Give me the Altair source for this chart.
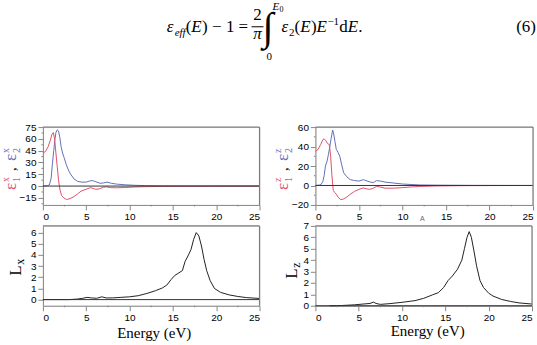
import altair as alt
import pandas as pd

# ---------------- data ----------------
# x polarisation: real (eps1) and imaginary (eps2) parts of the dielectric function
e1x_E = [0, 0.3, 0.6, 0.85, 1.05, 1.2, 1.35, 1.5, 1.65, 1.8, 1.9, 2.0, 2.15, 2.4, 2.7, 3.0, 3.5, 4.0, 4.4, 5.0,
         5.5, 5.8, 6.1, 6.5, 7.0, 7.3, 7.8, 8.5, 9.5, 10.5, 12, 14, 17, 20, 25]
e1x = [42, 44, 50, 58, 66, 68, 60, 42, 25, 8, 0, -6, -12, -15, -17, -16.5, -14, -10, -6.5, -4,
       -2, -3, -4.2, -3.5, -1.5, -1, -2, -2.2, -1.8, -1.2, -0.7, -0.4, -0.2, -0.1, 0]
e2x_E = [0, 0.5, 0.75, 0.95, 1.1, 1.25, 1.38, 1.5, 1.65, 1.8, 1.95, 2.1, 2.27, 2.45, 2.7, 3.0, 3.2, 3.6, 4.0, 4.5,
         5.0, 5.4, 5.7, 6.1, 6.6, 7.0, 7.4, 7.9, 8.5, 9.5, 10.5, 12, 14, 17, 20, 25]
e2x = [0, 0.5, 1.5, 10, 29, 45, 59, 68, 71.5, 70, 62, 50, 42, 36, 27, 19, 15, 9, 6, 5,
       5, 6.5, 7, 5.5, 3.5, 4, 5, 3.5, 2.5, 1.6, 1.0, 0.5, 0.3, 0.15, 0.1, 0.05]

# z polarisation
e1z_E = [0, 0.3, 0.6, 0.85, 1.0, 1.2, 1.4, 1.6, 1.75, 1.9, 2.05, 2.2, 2.4, 2.6, 2.9, 3.2, 3.6, 4.0, 4.5, 5.0,
         5.5, 5.9, 6.2, 6.6, 7.0, 7.4, 8.0, 9, 10, 11, 12, 14, 17, 20, 25]
e1z = [35, 37, 42, 47, 48, 46, 43, 42, 30, 10, -5, -7, -9, -12, -14.5, -14, -12, -9, -6, -4,
       -2.5, -3.5, -4, -3, -1, -1.5, -2.8, -2.8, -2.2, -1.5, -1, -0.5, -0.2, -0.1, 0]
e2z_E = [0, 0.5, 0.65, 0.85, 1.0, 1.15, 1.34, 1.5, 1.64, 1.8, 1.98, 2.1, 2.25, 2.4, 2.6, 2.8, 3.0, 3.25, 3.6, 4.0,
         4.5, 5.0, 5.5, 5.8, 6.3, 6.7, 7.0, 7.5, 8.0, 9, 10, 11, 12, 14, 18, 25]
e2z = [0, 0.5, 1, 4, 10, 20, 25, 32, 39, 48, 57, 53, 45, 37, 34, 30, 22, 13, 9, 6,
       5, 4.5, 6, 5, 3.5, 3, 5, 4.5, 3.5, 2.5, 1.5, 1, 0.5, 0.3, 0.1, 0]

# energy-loss functions
Lx_E = [0, 3, 4, 4.6, 5.1, 5.6, 6.2, 6.8, 7.3, 8, 9, 10, 11, 12, 13, 13.8, 14.3, 14.8, 15.2, 15.7,
        16.1, 16.4, 16.8, 17.1, 17.4, 17.7, 18.0, 18.3, 18.6, 18.9, 19.3, 19.8, 20.5, 21.5, 22.5, 23.5, 25]
Lx = [0, 0, 0.05, 0.12, 0.2, 0.15, 0.12, 0.25, 0.15, 0.15, 0.2, 0.25, 0.35, 0.55, 0.8, 1.05, 1.3, 1.8, 2.15, 2.4,
      2.6, 3.4, 4.0, 4.5, 5.4, 6.0, 5.7, 4.8, 3.6, 2.6, 1.7, 1.0, 0.65, 0.42, 0.28, 0.18, 0.1]
Lz_E = [1.65, 3, 4.5, 5.5, 6.3, 6.7, 7.0, 7.5, 8.5, 10, 11.5, 12.5, 13.5, 14.2, 14.8, 15.3, 15.8, 16.4, 16.9, 17.2,
        17.5, 17.75, 18.0, 18.3, 18.6, 19.0, 19.4, 20, 20.5, 21.5, 22.5, 23.5, 25]
Lz = [0, 0.02, 0.08, 0.15, 0.2, 0.32, 0.2, 0.12, 0.18, 0.3, 0.45, 0.65, 0.95, 1.15, 1.6, 2.2, 2.6, 3.2, 4.0, 5.0,
      6.0, 6.5, 6.0, 4.8, 3.5, 2.2, 1.6, 1.1, 0.85, 0.55, 0.38, 0.25, 0.15]

x_major = [0, 5, 10, 15, 20, 25]
x_minor = [2.5, 7.5, 12.5, 17.5, 22.5]

RED = "#e0506a"
BLUE = "#6470b4"
FRAME = "#7d7d7d"
TICK = "#808080"
SERIF = "Liberation Serif"
SANS = "Liberation Sans"


def long_df(pairs):
    rows = []
    for name, es, vs in pairs:
        rows += [{"s": name, "E": e, "v": v} for e, v in zip(es, vs)]
    return pd.DataFrame(rows)


def txt(text, x, y, size, color="black", font=SERIF, style="normal", angle=0,
        align="left", baseline="alphabetic"):
    return alt.Chart(alt.Data(values=[{}])).mark_text(
        text=text, font=font, fontSize=size, fontStyle=style, color=color,
        angle=angle, align=align, baseline=baseline,
    ).encode(x=alt.value(x), y=alt.value(y))


def box_edges(w, h):
    # top and right edges of the plot frame (left/bottom come from the axes)
    top = alt.Chart(alt.Data(values=[{}])).mark_rule(color=FRAME, strokeWidth=1.2).encode(
        x=alt.value(0), x2=alt.value(w), y=alt.value(0))
    right = alt.Chart(alt.Data(values=[{}])).mark_rule(color=FRAME, strokeWidth=1.2).encode(
        x=alt.value(w), y=alt.value(0), y2=alt.value(h))
    return [top, right]


def axis(values, title=None, **kw):
    return alt.Axis(values=values, title=title, grid=False, labelOverlap=False, **kw)


class Frame:
    """Shared x/y encodings so that every layer of a panel merges into one pair of axes."""

    def __init__(self, ydom, ymajor, xtitle_kw=None):
        xkw = xtitle_kw or {}
        self.xs = alt.Scale(domain=[0, 25], nice=False)
        self.ys = alt.Scale(domain=ydom, nice=False)
        self.xa = axis(x_major, **xkw) if xkw else axis(x_major)
        self.ya = axis(ymajor)

    def x(self):
        return alt.X("E:Q", scale=self.xs, axis=self.xa)

    def y(self):
        return alt.Y("v:Q", scale=self.ys, axis=self.ya)


def zero_rule(fr):
    return alt.Chart(alt.Data(values=[{"v": 0}])).mark_rule(
        color="#333333", strokeWidth=1
    ).encode(y=fr.y())


def x_minor_ticks(fr, h):
    return alt.Chart(pd.DataFrame({"E": x_minor})).mark_rule(color=TICK, strokeWidth=1).encode(
        x=fr.x(), y=alt.value(h), y2=alt.value(h + 1.5))


def y_minor_ticks(fr, vals):
    return alt.Chart(pd.DataFrame({"v": vals})).mark_rule(color=TICK, strokeWidth=1).encode(
        y=fr.y(), x=alt.value(0), x2=alt.value(-1.5))


def eps_label(letter):
    # rotated "ε1^k , ε2^k" axis label, red for eps1 and blue for eps2
    return [
        txt("ε", -27, 63, 17, RED, angle=270),
        txt("1", -23, 55, 10, RED, angle=270),
        txt(letter, -34, 55, 10, RED, angle=270),
        txt(",", -27, 44, 15, "black", angle=270),
        txt("ε", -27, 34, 17, BLUE, angle=270),
        txt("2", -23, 26, 10, BLUE, angle=270),
        txt(letter, -34, 26, 10, BLUE, angle=270),
    ]


def eps_panel(df, ydom, ymajor, yminor, w, h, letter, extra=()):
    fr = Frame(ydom, ymajor)
    lines = alt.Chart(df).mark_line(strokeWidth=1).encode(
        x=fr.x(), y=fr.y(),
        color=alt.Color("s:N", scale=alt.Scale(domain=["e2", "e1"], range=[BLUE, RED]), legend=None),
        order=alt.Order("E:Q"),
    )
    return alt.layer(lines, zero_rule(fr), x_minor_ticks(fr, h), y_minor_ticks(fr, yminor),
                     *box_edges(w, h), *eps_label(letter), *extra).properties(width=w, height=h)


def loss_panel(es, vs, ydom, ymajor, w, h, letter, lpos, spos, title_x, title_y, extra=()):
    fr = Frame(ydom, ymajor, dict(
        title="Energy (eV)", titleFont=SERIF, titleFontSize=15, titleColor="black",
        titleFontWeight="normal", titleX=title_x, titleY=title_y,
        titleBaseline="alphabetic", titleAlign="center", titleAnchor="start"))
    df = pd.DataFrame({"E": es, "v": vs})
    line = alt.Chart(df).mark_line(strokeWidth=1, color="#222222").encode(x=fr.x(), y=fr.y())
    label = [
        txt("L", lpos[0], lpos[1], 17, angle=270),
        txt(letter, spos[0], spos[1], 12, angle=270),
    ]
    return alt.layer(line, zero_rule(fr), x_minor_ticks(fr, h), *box_edges(w, h),
                     *label, *extra).properties(width=w, height=h)


# ---------------- equation (6), placed above the top-left panel ----------------
OX, OY = 42, 126  # top-left plot origin
eq_pieces = [
    ("ε", 166, 31, 17, "italic", "left"),
    ("eff", 174, 34.5, 11, "italic", "left"),
    ("(", 185, 31, 17, "normal", "left"),
    ("E", 190.5, 31, 17, "italic", "left"),
    (")", 201.5, 31, 17, "normal", "left"),
    ("−", 211.5, 31, 17, "normal", "left"),
    ("1", 225.5, 31, 17, "normal", "left"),
    ("=", 238, 31, 17, "normal", "left"),
    ("2", 257, 19, 17, "normal", "center"),
    ("π", 257, 38, 17, "italic", "center"),
    ("∫", 262, 39, 40, "normal", "left"),
    ("E", 272, 9, 11, "italic", "left"),
    ("0", 279, 11, 8, "normal", "left"),
    ("0", 266, 59, 11, "normal", "left"),
    ("ε", 281, 31, 17, "italic", "left"),
    ("2", 288.5, 34.5, 11, "normal", "left"),
    ("(", 294, 31, 17, "normal", "left"),
    ("E", 299.7, 31, 17, "italic", "left"),
    (")", 310.5, 31, 17, "normal", "left"),
    ("E", 316, 31, 17, "italic", "left"),
    ("−1", 327, 24, 11, "normal", "left"),
    ("d", 339, 31, 17, "normal", "left"),
    ("E", 347.5, 31, 17, "italic", "left"),
    (".", 358, 31, 17, "normal", "left"),
    ("(6)", 536, 31, 17, "normal", "right"),
]
equation = [txt(t, x - OX, y - OY, s, style=st, align=al) for t, x, y, s, st, al in eq_pieces]
equation.append(
    alt.Chart(alt.Data(values=[{}])).mark_rule(color="black", strokeWidth=1).encode(
        x=alt.value(251 - OX), x2=alt.value(263 - OX), y=alt.value(25.5 - OY))
)

# ---------------- panels ----------------
tl = eps_panel(long_df([("e2", e2x_E, e2x), ("e1", e1x_E, e1x)]), [-24, 75],
               [-15, 0, 15, 30, 45, 60, 75], [-22.5, -7.5, 7.5, 22.5, 37.5, 52.5, 67.5],
               217, 78, "x", extra=equation)
tr = eps_panel(long_df([("e2", e2z_E, e2z), ("e1", e1z_E, e1z)]), [-20, 60],
               [-20, 0, 20, 40, 60], [-10, 10, 30, 50], 218, 78, "z")
bl = loss_panel(Lx_E, Lx, [-0.55, 6.6], [0, 1, 2, 3, 4, 5, 6], 217, 80, "x",
                (-22, 50), (-19, 39), 111, 32)
br = loss_panel(Lz_E, Lz, [0, 7], [0, 1, 2, 3, 4, 5, 6, 7], 217, 80, "z",
                (-18, 53), (-15, 42), 112, 30,
                extra=[txt("A", 107, -7, 7, "#666666", font=SANS, align="center", baseline="middle")])

chart = alt.concat(
    tl, tr, bl, br, columns=2, bounds="flush", spacing={"row": 21, "column": 56}
).properties(
    padding={"left": 0, "top": 0, "right": 0, "bottom": 0}
).configure_view(
    stroke=FRAME, strokeWidth=1
).configure_axis(
    grid=False, domainColor=TICK, tickColor=TICK, labelColor="#555555",
    labelFont=SANS, labelFontSize=7, labelPadding=2, tickSize=3,
).configure(background="white")

chart.save("out.html", embed_options={"renderer": "svg", "actions": False})
